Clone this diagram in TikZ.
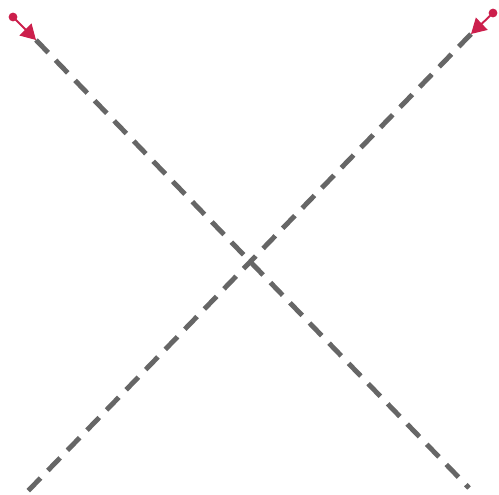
\documentclass[tikz,border=0pt]{standalone}
\usepackage{xcolor}
\usetikzlibrary{arrows.meta}
\definecolor{crossgray}{HTML}{666666}
\definecolor{handred}{HTML}{CC1F4C}

\begin{document}
\begin{tikzpicture}[x=0.02cm,y=-0.02cm,
  crossline/.style={draw=crossgray,line width=2.8pt,dash pattern=on 10pt off 6pt},
  handle/.style={circle,fill=handred,inner sep=0pt,minimum size=5pt},
  pull/.style={draw=handred,line width=1.1pt,-{Triangle[length=8.5pt,width=9.5pt]}}]
\useasboundingbox (0,0) rectangle (499,494);
% end points of the two crossing lines
\coordinate (a1) at (36,40);
\coordinate (a2) at (469,488);
\coordinate (b1) at (471,34);
\coordinate (b2) at (27,492);
\draw[crossline] (a1) -- (a2);
\draw[crossline] (b1) -- (b2);
% drag handles
\node[handle] (ha) at (13,17) {};
\node[handle] (hb) at (493,13) {};
\draw[pull] (ha.center) -- (a1);
\draw[pull] (hb.center) -- (b1);
\end{tikzpicture}
\end{document}
